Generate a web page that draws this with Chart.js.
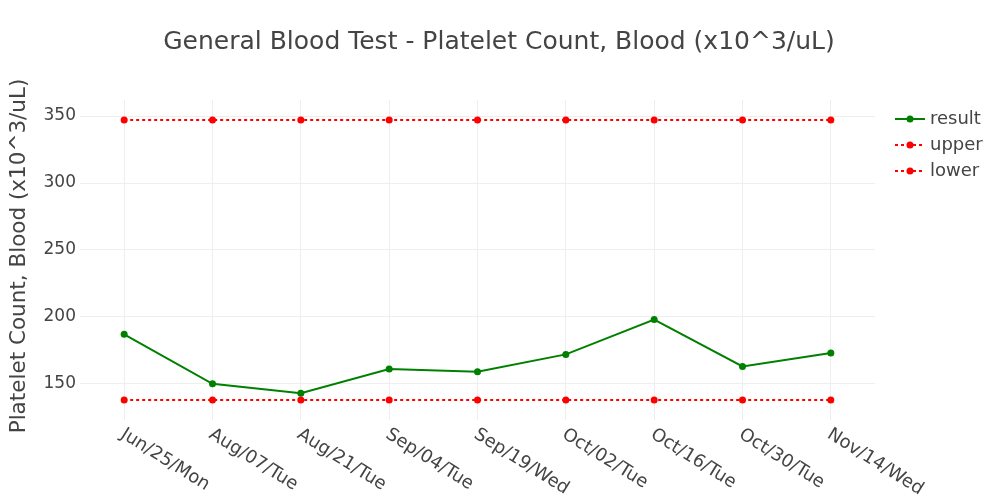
<!DOCTYPE html>
<html>
<head>
<meta charset="utf-8">
<script src="https://cdn.jsdelivr.net/npm/chart.js@4"></script>
<style>
  html, body { margin: 0; padding: 0; background: #fff; }
  #wrap { width: 1000px; height: 500px; }
</style>
</head>
<body>
<div id="wrap"><canvas id="myChart" width="1000" height="500"></canvas></div>
<script>
// data
const dates = ['Jun/25/Mon', 'Aug/07/Tue', 'Aug/21/Tue', 'Sep/04/Tue', 'Sep/19/Wed', 'Oct/02/Tue', 'Oct/16/Tue', 'Oct/30/Tue', 'Nov/14/Wed'];
const result = [187, 150, 143, 161, 159, 172, 198, 163, 173];
const upper = [347, 347, 347, 347, 347, 347, 347, 347, 347];
const lower = [138, 138, 138, 138, 138, 138, 138, 138, 138];
const yTicks = [150, 200, 250, 300, 350];

const FONT = '"DejaVu Sans", Verdana, sans-serif';
const TXT = '#444';

// plotly-like title, axis title, rotated x labels and legend
const decor = {
  id: 'decor',
  afterDraw(chart) {
    const ctx = chart.ctx;
    const x = chart.scales.x;
    ctx.save();
    ctx.fillStyle = TXT;

    // title
    ctx.font = '25px ' + FONT;
    ctx.textAlign = 'center';
    ctx.textBaseline = 'middle';
    ctx.fillText('General Blood Test - Platelet Count, Blood (x10^3/uL)', 499, 42);

    // y axis title
    ctx.save();
    ctx.translate(19, 256);
    ctx.rotate(-Math.PI / 2);
    ctx.font = '21.5px ' + FONT;
    ctx.fillText('Platelet Count, Blood (x10^3/uL)', 0, 0);
    ctx.restore();

    // x tick labels, rotated clockwise
    ctx.font = '18px ' + FONT;
    ctx.textAlign = 'left';
    ctx.textBaseline = 'middle';
    dates.forEach((d, i) => {
      const px = x.getPixelForValue(i);
      ctx.save();
      ctx.translate(px - 2, chart.chartArea.bottom + 13);
      ctx.rotate(32 * Math.PI / 180);
      ctx.fillText(d, 0, 0);
      ctx.restore();
    });

    // legend
    const items = [
      { label: 'result', color: 'green', dash: [] },
      { label: 'upper', color: 'red', dash: [3, 3] },
      { label: 'lower', color: 'red', dash: [3, 3] }
    ];
    items.forEach((it, i) => {
      const y = 119 + i * 26;
      ctx.strokeStyle = it.color;
      ctx.lineWidth = 2;
      ctx.setLineDash(it.dash);
      ctx.beginPath();
      ctx.moveTo(895, y);
      ctx.lineTo(925, y);
      ctx.stroke();
      ctx.setLineDash([]);
      ctx.fillStyle = it.color;
      ctx.beginPath();
      ctx.arc(910, y, 3.5, 0, Math.PI * 2);
      ctx.fill();
      ctx.fillStyle = TXT;
      ctx.font = '18px ' + FONT;
      ctx.fillText(it.label, 930, y);
    });
    ctx.restore();
  }
};

const data = {
  labels: dates,
  datasets: [
    {
      label: 'result',
      data: result,
      borderColor: 'green',
      backgroundColor: 'green',
      borderWidth: 2,
      pointRadius: 3.5,
      pointBorderWidth: 0
    },
    {
      label: 'upper',
      data: upper,
      borderColor: 'red',
      backgroundColor: 'red',
      borderWidth: 2,
      borderDash: [3, 3],
      pointRadius: 3.5,
      pointBorderWidth: 0
    },
    {
      label: 'lower',
      data: lower,
      borderColor: 'red',
      backgroundColor: 'red',
      borderWidth: 2,
      borderDash: [3, 3],
      pointRadius: 3.5,
      pointBorderWidth: 0
    }
  ]
};

const config = {
  type: 'line',
  data,
  options: {
    responsive: false,
    animation: false,
    tension: 0,
    layout: { padding: { top: 100, left: 0, right: 125, bottom: 0 } },
    plugins: {
      legend: { display: false },
      title: { display: false },
      tooltip: { enabled: false }
    },
    scales: {
      x: {
        offset: true,
        grid: { color: '#eee', offset: false, drawTicks: false },
        border: { display: false },
        ticks: { display: false },
        afterFit(s) { s.height = 80; s.paddingLeft = 0; s.paddingRight = 0; }
      },
      y: {
        min: 123,
        max: 362,
        grid: { color: '#eee', drawTicks: false },
        border: { display: false },
        afterBuildTicks(s) { s.ticks = yTicks.map(v => ({ value: v })); },
        ticks: { color: TXT, padding: 4, font: { family: FONT, size: 17 } },
        afterFit(s) { s.width = 80; s.paddingTop = 0; s.paddingBottom = 0; }
      }
    }
  },
  plugins: [decor]
};

const myChart = new Chart(document.getElementById('myChart'), config);
</script>
</body>
</html>
